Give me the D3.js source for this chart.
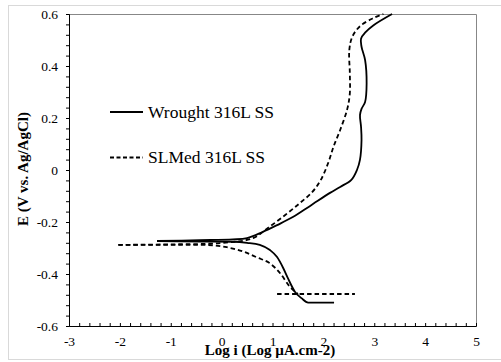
<!DOCTYPE html>
<html>
<head>
<meta charset="utf-8">
<script src="https://cdn.jsdelivr.net/npm/d3@7"></script>
<style>
  body { margin: 0; background: #fff; }
  svg text { font-family: "Liberation Serif", "Times New Roman", serif; fill: #000; }
</style>
</head>
<body>
<div id="chart"></div>
<script>
// data: [log i, E]
const wroughtCathodic = [
  [-1.27, -0.273], [-0.43, -0.275], [0.22, -0.276], [0.50, -0.280], [0.75, -0.288],
  [0.95, -0.308], [1.09, -0.335], [1.21, -0.377], [1.30, -0.415], [1.44, -0.468],
  [1.57, -0.493], [1.70, -0.510], [2.21, -0.510]
];
const wroughtAnodic = [
  [-1.27, -0.273], [-0.43, -0.270], [0.22, -0.267], [0.50, -0.262], [0.81, -0.238],
  [1.09, -0.212], [1.40, -0.181], [1.74, -0.138], [2.13, -0.088], [2.33, -0.065],
  [2.55, -0.038], [2.66, 0.000], [2.72, 0.040], [2.75, 0.115], [2.74, 0.167],
  [2.72, 0.212], [2.75, 0.235], [2.82, 0.262], [2.85, 0.333], [2.82, 0.423],
  [2.75, 0.474], [2.74, 0.505], [2.83, 0.530], [2.98, 0.556], [3.35, 0.600]
];
const slmCathodic = [
  [-2.03, -0.288], [-1.01, -0.288], [-0.36, -0.288], [0.10, -0.297], [0.43, -0.314],
  [0.69, -0.336], [0.95, -0.359], [1.15, -0.397], [1.34, -0.449], [1.50, -0.477]
];
const slmCathodicFlat = [[1.09, -0.477], [2.62, -0.477]];
const slmAnodic = [
  [-2.03, -0.288], [-1.01, -0.286], [-0.03, -0.281], [0.62, -0.262], [0.91, -0.223],
  [1.25, -0.173], [1.54, -0.127], [1.78, -0.085], [1.95, -0.038], [2.10, 0.030],
  [2.20, 0.090], [2.33, 0.154], [2.47, 0.235], [2.52, 0.295], [2.52, 0.372],
  [2.51, 0.462], [2.57, 0.513], [2.72, 0.553], [2.98, 0.584], [3.18, 0.600]
];

const xTicks = [-3, -2, -1, 0, 1, 2, 3, 4, 5];
const xTickLabels = ["-3", "-2", "-1", "0", "1", "2", "3", "4", "5"];
const yTicks = [-0.6, -0.4, -0.2, 0, 0.2, 0.4, 0.6];
const yTickLabels = ["-0.6", "-0.4", "-0.2", "0", "0.2", "0.4", "0.6"];
const seriesNames = ["Wrought 316L SS", "SLMed 316L SS"];

const serif = "'Liberation Serif', 'Times New Roman', serif";

// step 1 svg and sizes
const W = 501, H = 362;
const margin = { top: 14, right: 25, bottom: 36, left: 69 };
const width = W - margin.left - margin.right,
  height = H - margin.top - margin.bottom;

const svgRoot = d3.select("#chart").append("svg")
  .attr("width", W).attr("height", H);

// outer frame
svgRoot.append("rect")
  .attr("x", 8.5).attr("y", 5.5)
  .attr("width", 493).attr("height", 354)
  .attr("fill", "none").attr("stroke", "#d9d9d9");

const svg = svgRoot.append("g")
  .attr("transform", "translate(" + margin.left + "," + margin.top + ")");

// step 2 scales
const x = d3.scaleLinear().domain([-3, 5]).range([0, width]);
const y = d3.scaleLinear().domain([-0.6, 0.6]).range([height, 0]);

// plot border (top + right)
svg.append("path")
  .attr("d", "M0,0.5H" + (width + 0.5) + "V" + height)
  .attr("fill", "none").attr("stroke", "#878787");

// step 3 axes with minor ticks
const xAll = d3.range(0, 41).map(i => +(-3 + i * 0.2).toFixed(2));
const yAll = d3.range(0, 31).map(i => +(-0.6 + i * 0.04).toFixed(2));

const xAxis = d3.axisBottom(x)
  .tickValues(xAll)
  .tickSize(-3)
  .tickPadding(8)
  .tickFormat(v => {
    const k = xTicks.indexOf(v);
    return k >= 0 ? xTickLabels[k] : "";
  });

const yAxis = d3.axisLeft(y)
  .tickValues(yAll)
  .tickSize(3)
  .tickPadding(8)
  .tickFormat(v => {
    const k = yTicks.findIndex(t => Math.abs(t - v) < 1e-6);
    return k >= 0 ? yTickLabels[k] : "";
  });

const gx = svg.append("g")
  .attr("transform", "translate(0," + height + ")")
  .call(xAxis);
const gy = svg.append("g").call(yAxis);

[gx, gy].forEach(g => {
  g.attr("font-family", serif).attr("font-size", 13.5);
  g.selectAll("path.domain").attr("stroke", "#000");
  g.selectAll(".tick line").attr("stroke", "#000");
  g.selectAll("text").attr("fill", "#000");
});
gx.selectAll(".tick text").attr("dy", "0.9em");
gy.selectAll(".tick text").attr("dy", "0.35em");

// step 4 lines
const lineX = d3.line().x(d => x(d[0])).y(d => y(d[1])).curve(d3.curveMonotoneX);
const lineC = d3.line().x(d => x(d[0])).y(d => y(d[1])).curve(d3.curveCatmullRom.alpha(0.5));

const curves = [
  { data: wroughtCathodic, gen: lineX, dash: null },
  { data: wroughtAnodic, gen: lineC, dash: null },
  { data: slmCathodic, gen: lineX, dash: "4.5,3" },
  { data: slmCathodicFlat, gen: lineX, dash: "4.5,3" },
  { data: slmAnodic, gen: lineC, dash: "4.5,3" }
];

svg.append("g").selectAll("path")
  .data(curves)
  .enter()
  .append("path")
  .attr("d", d => d.gen(d.data))
  .attr("fill", "none")
  .attr("stroke", "#000")
  .attr("stroke-width", 1.8)
  .attr("stroke-dasharray", d => d.dash);

// step 5 legend
const legend = svgRoot.append("g")
  .selectAll("g")
  .data(seriesNames)
  .enter()
  .append("g")
  .attr("transform", (d, i) => "translate(110," + (112 + i * 45.5) + ")");

legend.append("line")
  .attr("x1", 0).attr("x2", 33)
  .attr("stroke", "#000")
  .attr("stroke-width", 1.8)
  .attr("stroke-dasharray", (d, i) => i === 1 ? "4,2.5" : null);

legend.append("text")
  .attr("x", 38)
  .attr("y", 5.5)
  .attr("font-family", serif)
  .attr("font-size", 17.5)
  .text(d => d);

// step 6 axis titles
svgRoot.append("text")
  .attr("x", 270)
  .attr("y", 355)
  .attr("text-anchor", "middle")
  .attr("font-family", serif)
  .attr("font-weight", "bold")
  .attr("font-size", 15)
  .text("Log i (Log µA.cm-2)");

svgRoot.append("text")
  .attr("transform", "translate(28,169) rotate(-90)")
  .attr("text-anchor", "middle")
  .attr("font-family", serif)
  .attr("font-weight", "bold")
  .attr("font-size", 15)
  .text("E (V vs. Ag/AgCl)");
</script>
</body>
</html>
